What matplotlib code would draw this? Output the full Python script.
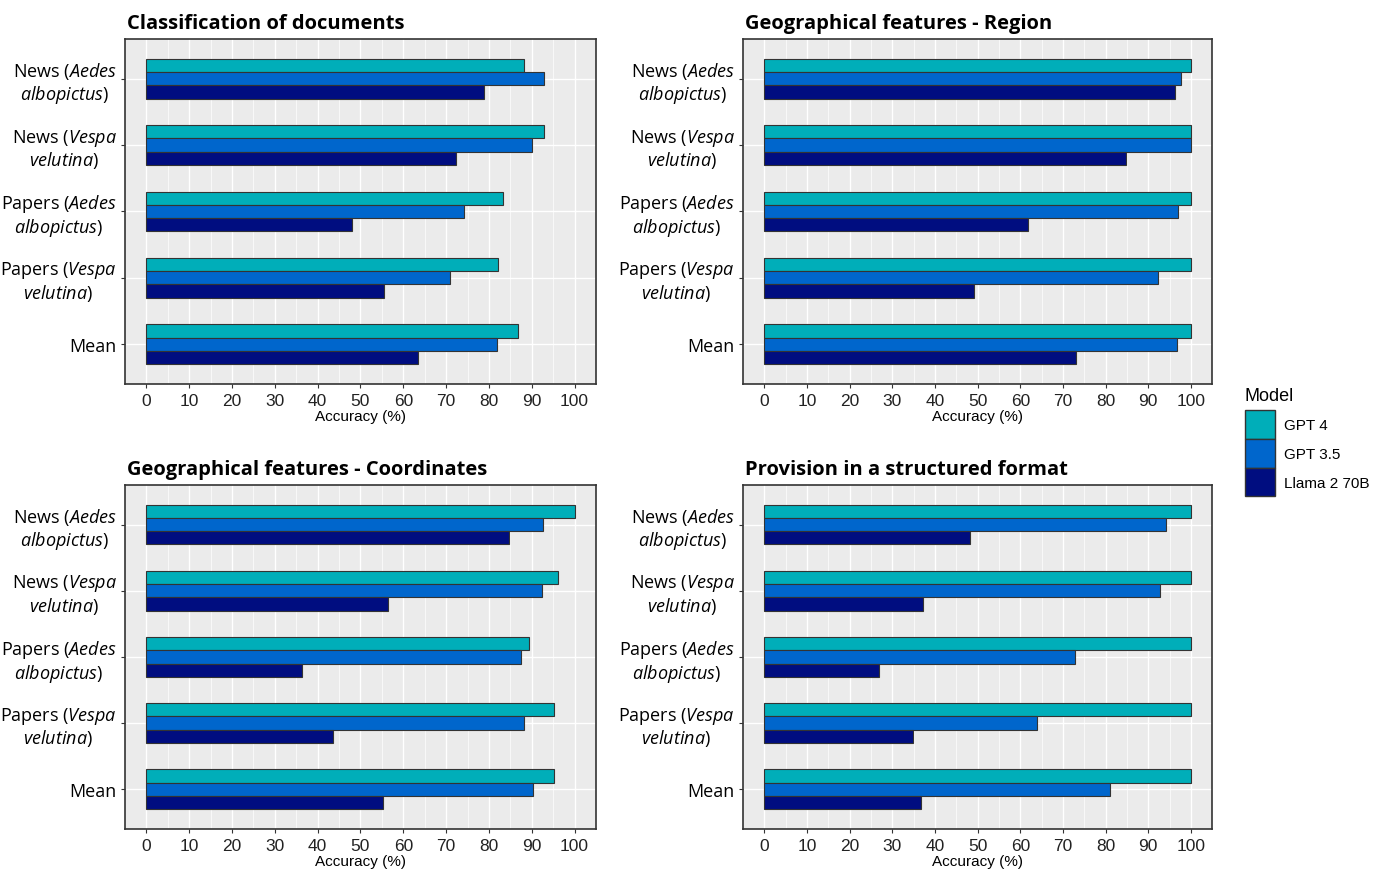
import numpy as np
import matplotlib.pyplot as plt
from matplotlib.patches import Patch

plt.rcParams['font.family'] = ['Liberation Sans', 'DejaVu Sans']
plt.rcParams['mathtext.fontset'] = 'custom'
plt.rcParams['mathtext.it'] = 'Open Sans:italic'
plt.rcParams['mathtext.rm'] = 'Open Sans'

# === Données ===
categories = [
    "News ($\\it{Aedes}$\n$\\it{albopictus}$)",
    "News ($\\it{Vespa}$\n$\\it{velutina}$)",
    "Papers ($\\it{Aedes}$\n$\\it{albopictus}$)",
    "Papers ($\\it{Vespa}$\n$\\it{velutina)}$",
    "Mean",
]
models = ["GPT 4", "GPT 3.5", "Llama 2 70B"]
colors = ["#00AEB9", "#0066CC", "#000D80"]

titles = [
    "Classification of documents",
    "Geographical features - Region",
    "Geographical features - Coordinates",
    "Provision in a structured format",
]

classif_gpt4 = [88.1, 92.8, 83.3, 82.1, 86.7]
classif_gpt35 = [92.8, 90.0, 74.1, 70.8, 82.0]
classif_llama = [78.9, 72.2, 48.1, 55.4, 63.5]

region_gpt4 = [100, 100, 100, 100, 100]
region_gpt35 = [97.6, 100, 97.0, 92.3, 96.8]
region_llama = [96.2, 84.8, 61.8, 49.2, 73.0]

coord_gpt4 = [100, 96.1, 89.3, 95.2, 95.3]
coord_gpt35 = [92.6, 92.4, 87.6, 88.3, 90.2]
coord_llama = [84.7, 56.5, 36.3, 43.5, 55.3]

struct_gpt4 = [100, 100, 100, 100, 100]
struct_gpt35 = [94.1, 92.7, 72.8, 64.0, 81.0]
struct_llama = [48.1, 37.2, 26.8, 34.8, 36.8]

x_ticks = list(range(0, 101, 10))

panels = [
    (classif_gpt4, classif_gpt35, classif_llama),
    (region_gpt4, region_gpt35, region_llama),
    (coord_gpt4, coord_gpt35, coord_llama),
    (struct_gpt4, struct_gpt35, struct_llama),
]

# positions des axes (fraction de la figure)
rects = [
    [0.0903, 0.5575, 0.3403, 0.3966],
    [0.5369, 0.5575, 0.3390, 0.3966],
    [0.0903, 0.0460, 0.3403, 0.3955],
    [0.5369, 0.0460, 0.3390, 0.3955],
]

fig = plt.figure(figsize=(13.84, 8.70), dpi=100)

bar_h = 0.2
y = np.arange(len(categories))

for rect, title, series in zip(rects, titles, panels):
    ax = fig.add_axes(rect)
    ax.set_facecolor("#EBEBEB")
    for i, (vals, col) in enumerate(zip(series, colors)):
        ax.barh(y + (i - 1) * bar_h, vals, height=bar_h, color=col,
                edgecolor="#333333", linewidth=0.8, zorder=3)
    ax.set_xlim(-5, 105)
    ax.set_ylim(len(categories) - 0.4, -0.6)
    ax.set_xticks(x_ticks)
    ax.set_xticklabels([str(t) for t in x_ticks], fontsize=12.5,
                       family=['Liberation Sans', 'DejaVu Sans'])
    ax.set_xticks(np.arange(5, 100, 10), minor=True)
    ax.set_yticks(y)
    ax.set_yticklabels(categories, fontsize=13, family=['Open Sans', 'DejaVu Sans'],
                       ha='right', multialignment='center', linespacing=1.1)
    ax.tick_params(axis='y', pad=3, length=3, colors="#333333", labelcolor="black")
    ax.tick_params(axis='x', length=3, colors="#333333", labelcolor="#222222")
    ax.tick_params(axis='x', which='minor', length=0)
    ax.grid(True, which='major', color='white', linewidth=1.0, zorder=0)
    ax.grid(True, which='minor', axis='x', color='white', linewidth=0.5, zorder=0)
    ax.set_axisbelow(True)
    for sp in ax.spines.values():
        sp.set_color("#333333")
        sp.set_linewidth(1.2)
    ax.set_xlabel("Accuracy (%)", fontsize=11, labelpad=1)
    ax.set_title(title, loc='left', fontsize=14.5, fontweight='bold',
                 family=['Open Sans', 'DejaVu Sans'], pad=8, x=0.005)

handles = [Patch(facecolor=c, edgecolor="#333333", label=m) for m, c in zip(models, colors)]
leg = fig.legend(handles=handles, title="Model", loc='upper left',
                 bbox_to_anchor=(0.895, 0.561), frameon=False, fontsize=11,
                 title_fontsize=13, handlelength=1.95, handleheight=2.54,
                 handletextpad=0.6, labelspacing=0.0, borderaxespad=0)
leg._legend_box.align = "left"
leg._legend_box.sep = 4

plt.savefig("out.png", dpi=100)
